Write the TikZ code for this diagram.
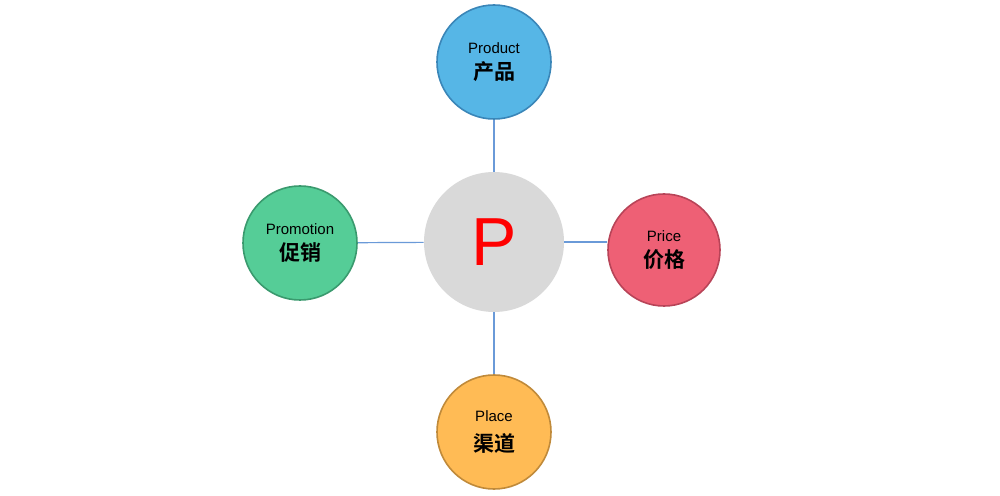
\documentclass[tikz,border=0pt]{standalone}
\usepackage{fontspec}
\setmainfont{Liberation Sans}
\newfontfamily\cjk[BoldFont=* Bold]{Noto Sans CJK SC}
\definecolor{cprod}{HTML}{56B6E6}
\definecolor{cprodb}{HTML}{3A86B8}
\definecolor{cprom}{HTML}{55CD97}
\definecolor{cpromb}{HTML}{3A9A6E}
\definecolor{cpri}{HTML}{EE6075}
\definecolor{cprib}{HTML}{B84458}
\definecolor{cpla}{HTML}{FFBB55}
\definecolor{cplab}{HTML}{C08A3A}
\definecolor{cline}{HTML}{6A9AD8}
\begin{document}
\begin{tikzpicture}[x=0.5pt,y=-0.5pt,
  sat/.style={circle,minimum size=114pt*0.5,line width=0.8pt,inner sep=0pt,align=center,font=\fontsize{7.5pt}{11pt}\selectfont},
  conn/.style={draw=cline,line width=0.6pt}]
\useasboundingbox (0,0) rectangle (1000,496);
\node[circle,fill=black!15,minimum size=70pt,inner sep=0pt,text=red,font=\fontsize{34pt}{34pt}\selectfont] (c) at (494,242) {P};
\node[sat,fill=cprod,draw=cprodb] (prod) at (494,62) {Product\\[2pt]{\cjk\bfseries\fontsize{10.5pt}{12pt}\selectfont 产品}};
\node[sat,fill=cprom,draw=cpromb] (prom) at (300,243) {Promotion\\[2pt]{\cjk\bfseries\fontsize{10.5pt}{12pt}\selectfont 促销}};
\node[sat,fill=cpri,draw=cprib,minimum size=56pt] (pri) at (664,250) {Price\\[2pt]{\cjk\bfseries\fontsize{10.5pt}{12pt}\selectfont 价格}};
\node[sat,fill=cpla,draw=cplab] (pla) at (494,432) {Place\\[4pt]{\cjk\bfseries\fontsize{10.5pt}{12pt}\selectfont 渠道}};
\draw[conn] (c) -- (prod);
\draw[conn] (c) -- (prom);
\draw[conn] (c.east) -- (pri.west|-c.east);
\draw[conn] (c) -- (pla);
\end{tikzpicture}
\end{document}
